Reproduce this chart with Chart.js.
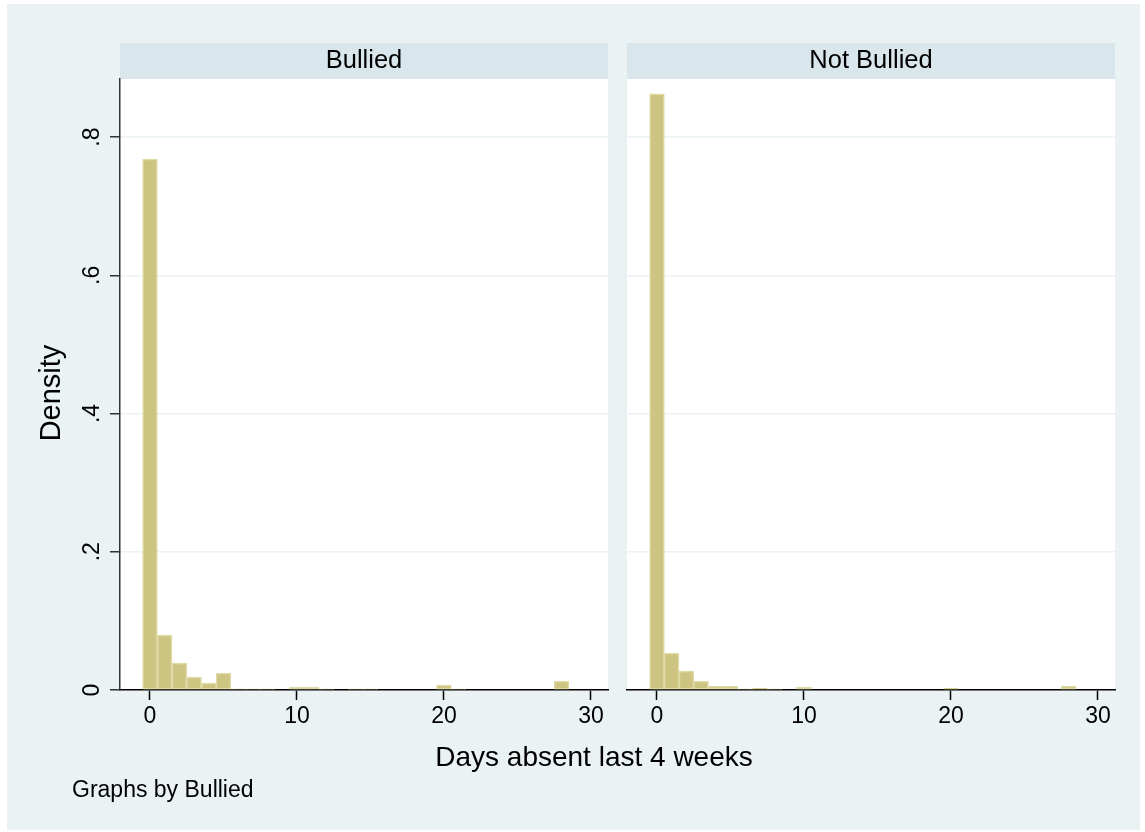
<!DOCTYPE html>
<html>
<head>
<meta charset="utf-8">
<script src="https://cdn.jsdelivr.net/npm/chart.js@4.4.1/dist/chart.umd.min.js"></script>
<style>
  html, body { margin: 0; padding: 0; background: #fff; }
  #wrap { position: relative; width: 1145px; height: 832px; }
  canvas { position: absolute; left: 0; top: 0; }
</style>
</head>
<body>
<div id="wrap">
  <canvas id="left" width="1145" height="832"></canvas>
  <canvas id="right" width="1145" height="832"></canvas>
</div>
<script>
// days absent (discrete bins, width 1)
const days = [0, 1, 2, 3, 4, 5, 6, 7, 8, 9, 10, 11, 12, 13, 14, 15, 16, 17, 18, 19, 20, 21, 22, 23, 24, 25, 26, 27, 28];
const bulliedDensity = [0.768, 0.0796, 0.039, 0.0188, 0.0101, 0.0246, 0.0014, 0.0014, 0.0014, 0, 0.0043, 0.0043, 0.0014, 0, 0.0014, 0.0014, 0, 0, 0, 0, 0.0072, 0.0014, 0, 0, 0, 0, 0, 0, 0.013];
const notBulliedDensity = [0.8626, 0.0535, 0.0275, 0.013, 0.0058, 0.0058, 0.0014, 0.0029, 0.0014, 0, 0.0043, 0, 0, 0, 0, 0, 0, 0, 0, 0, 0.0029, 0, 0, 0, 0, 0, 0, 0, 0.0058];
const panelTitles = ['Bullied', 'Not Bullied'];
const xTicks = [0, 10, 20, 30];
const yTicks = [0, 0.2, 0.4, 0.6, 0.8];
const yTickLabels = ['0', '.2', '.4', '.6', '.8'];

const FONT = '"Liberation Sans", Arial, Helvetica, sans-serif';
const BG = '#eaf2f3';
const STRIP = '#d9e6eb';
const BAR = 'rgb(204,196,128)';
const BAR_EDGE = 'rgb(222,217,165)';

Chart.defaults.font.family = FONT;

function toPoints(vals) {
    return days.map((d, i) => ({ x: d, y: vals[i] > 0 ? vals[i] : null }));
}

// page background, strips and shared titles
const pagePlugin = {
    id: 'page',
    beforeDraw(chart) {
        const ctx = chart.ctx;
        const a = chart.chartArea;
        ctx.save();
        ctx.fillStyle = '#fff';
        ctx.fillRect(0, 0, chart.width, chart.height);
        ctx.fillStyle = BG;
        ctx.fillRect(7, 4, 1133, 826);

        // strips for both panels
        const w = a.right - a.left;
        [a.left, 627].forEach((x0, i) => {
            ctx.fillStyle = STRIP;
            ctx.fillRect(x0, a.top - 36, w, 36);
            ctx.fillStyle = '#000';
            ctx.font = '25.5px ' + FONT;
            ctx.textAlign = 'center';
            ctx.textBaseline = 'alphabetic';
            ctx.fillText(panelTitles[i], x0 + w / 2, a.top - 11);
        });

        ctx.fillStyle = '#fff';
        ctx.fillRect(a.left, a.top, w, a.bottom - a.top);

        // titles
        ctx.fillStyle = '#000';
        ctx.font = '28px ' + FONT;
        ctx.textAlign = 'center';
        ctx.fillText('Days absent last 4 weeks', 594, 766);

        ctx.font = '23px ' + FONT;
        ctx.textAlign = 'left';
        ctx.fillText('Graphs by Bullied', 72, 797);

        ctx.translate(60, 393);
        ctx.rotate(-Math.PI / 2);
        ctx.font = '29px ' + FONT;
        ctx.textAlign = 'center';
        ctx.fillText('Density', 0, 0);
        ctx.restore();
    },
    afterDraw(chart) {
        const ctx = chart.ctx;
        const ys = chart.scales.y;
        ctx.save();
        ctx.fillStyle = '#000';
        ctx.font = '23px ' + FONT;
        ctx.textAlign = 'center';
        ctx.textBaseline = 'middle';
        yTicks.forEach((v, i) => {
            const py = ys.getPixelForValue(v);
            ctx.save();
            ctx.translate(93, py);
            ctx.rotate(-Math.PI / 2);
            ctx.fillText(yTickLabels[i], 0, 0);
            ctx.restore();
        });
        ctx.restore();
    }
};

const whiteArea = {
    id: 'whiteArea',
    beforeDraw(chart) {
        const a = chart.chartArea;
        chart.ctx.save();
        chart.ctx.fillStyle = '#fff';
        chart.ctx.fillRect(a.left, a.top, a.right - a.left, a.bottom - a.top);
        chart.ctx.restore();
    }
};

function makePanel(id, values, padLeft, padRight, showYAxis, plugins) {
    return new Chart(document.getElementById(id), {
        type: 'bar',
        data: {
            datasets: [{
                data: toPoints(values),
                backgroundColor: BAR,
                borderColor: BAR_EDGE,
                borderWidth: 1.5,
                borderSkipped: false,
                barPercentage: 1,
                categoryPercentage: 1
            }]
        },
        options: {
            responsive: false,
            animation: false,
            devicePixelRatio: 1,
            layout: { padding: { left: padLeft, right: padRight, top: 79, bottom: 0 } },
            plugins: { legend: { display: false }, tooltip: { enabled: false } },
            scales: {
                x: {
                    type: 'linear',
                    min: -2.04,
                    max: 31.16,
                    offset: false,
                    afterBuildTicks: s => { s.ticks = xTicks.map(v => ({ value: v })); },
                    afterFit: s => { s.height = 142; },
                    grid: {
                        offset: false, drawOnChartArea: false, drawTicks: true,
                        tickLength: 10, tickColor: '#000', tickWidth: 1.5
                    },
                    border: { display: true, color: '#000', width: 1.5 },
                    ticks: { color: '#000', font: { size: 23 }, padding: 3, maxRotation: 0 }
                },
                y: {
                    min: 0,
                    max: 0.884,
                    afterBuildTicks: s => { s.ticks = yTicks.map(v => ({ value: v })); },
                    afterFit: s => { s.width = 120; },
                    grid: {
                        offset: false, color: BG, lineWidth: 1.5,
                        drawTicks: showYAxis, tickLength: 10, tickColor: '#333', tickWidth: 1.5
                    },
                    border: { display: showYAxis, color: '#333', width: 1.5 },
                    ticks: { display: false }
                }
            }
        },
        plugins: plugins
    });
}

makePanel('left', bulliedDensity, 0, 1145 - 608, true, [pagePlugin]);
makePanel('right', notBulliedDensity, 627 - 120, 1145 - 1115, false, [whiteArea]);
</script>
</body>
</html>
